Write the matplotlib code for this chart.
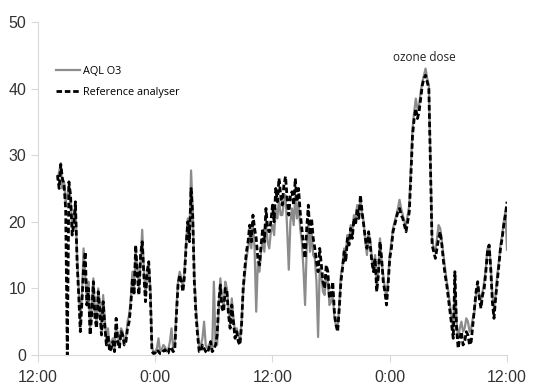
import numpy as np
import matplotlib
matplotlib.use('Agg')
import matplotlib.pyplot as plt

# ozone readings (ppb), 10 minute averages, hours after 12:00 on day 1
t_start = 2.0   # first reading at 14:00
step = 1 / 6    # 10 minutes

# one row per hour, from 14:00 on day 1 to 12:00 on day 3
ref_o3 = [
    27.0, 25.0, 28.6, 26.5, 25.5, 22.0,
    0.0, 26.0, 24.0, 18.0, 19.5, 23.0,
    14.0, 9.0, 3.5, 8.0, 13.0, 15.5,
    7.5, 10.0, 3.0, 6.0, 11.0, 5.5,
    4.0, 9.5, 6.5, 3.0, 8.0, 4.5,
    1.5, 3.0, 0.5, 1.0, 2.0, 0.5,
    5.5, 2.0, 1.0, 3.5, 3.0, 1.5,
    2.0, 4.0, 5.0, 7.5, 11.5, 9.0,
    16.5, 12.0, 9.0, 15.0, 17.0, 12.0,
    8.0, 12.5, 14.0, 9.0, 0.5, 0.2,
    0.3, 0.8, 0.5, 0.2, 0.2, 0.6,
    0.8, 0.3, 0.3, 1.2, 1.0, 0.5,
    0.8, 6.0, 10.5, 12.0, 11.0, 9.5,
    12.0, 16.5, 20.0, 17.0, 25.0, 21.0,
    11.0, 6.0, 3.0, 0.5, 0.5, 1.5,
    1.0, 0.5, 0.3, 1.0, 2.0, 0.5,
    0.8, 1.5, 3.0, 8.0, 10.5, 7.0,
    6.5, 10.0, 9.5, 6.0, 4.0, 7.5,
    5.0, 2.5, 3.5, 2.0, 1.5, 4.5,
    10.0, 13.0, 15.5, 17.0, 19.5, 17.0,
    21.0, 19.0, 17.5, 14.5, 13.5, 16.5,
    19.0, 17.0, 22.0, 19.0, 18.5, 20.0,
    22.5, 20.0, 25.0, 23.0, 26.5, 24.0,
    22.5, 25.5, 26.8, 23.5, 21.0, 24.0,
    24.5, 22.5, 26.5, 23.0, 25.0, 21.5,
    19.0, 16.5, 14.5, 19.0, 22.5, 18.0,
    20.5, 17.5, 16.0, 14.0, 12.5, 16.0,
    13.5, 11.0, 10.0, 13.5, 12.5, 8.5,
    9.0, 11.0, 6.5, 4.5, 3.5, 7.0,
    11.0, 13.0, 15.5, 14.0, 17.5, 16.5,
    19.0, 17.5, 20.5, 19.5, 22.0, 20.5,
    24.0, 21.5, 19.5, 17.5, 16.0, 18.5,
    16.5, 14.0, 12.5, 14.5, 9.5, 12.0,
    17.0, 14.5, 11.0, 9.5, 7.5, 10.5,
    14.5, 16.0, 18.5, 19.5, 20.5, 21.5,
    22.0, 21.0, 20.5, 19.5, 18.5, 20.0,
    21.5, 27.0, 33.0, 35.5, 37.0, 35.5,
    36.5, 38.5, 40.5, 41.5, 42.0, 41.0,
    40.0, 28.0, 16.5, 15.5, 14.5, 16.0,
    17.5, 18.5, 16.5, 14.0, 12.0, 10.5,
    8.5, 6.5, 4.5, 2.5, 12.5, 4.0,
    1.0, 2.5, 3.5, 1.5, 2.0, 3.5,
    3.0, 1.5, 2.0, 4.5, 7.0, 9.5,
    11.0, 8.5, 7.0, 9.0, 10.0, 12.5,
    15.5, 16.5, 13.0, 8.0, 5.5, 8.5,
    11.0, 13.5, 16.0, 17.5, 19.5, 21.0,
    23.0]

aql_o3 = [
    26.5, 27.5, 28.8, 25.0, 26.0, 23.0,
    24.0, 25.5, 23.5, 19.0, 21.0, 22.5,
    15.0, 10.0, 5.0, 9.0, 16.0, 12.0,
    8.5, 11.0, 4.0, 7.0, 11.5, 6.5,
    5.0, 10.0, 7.5, 4.0, 9.0, 5.5,
    2.0, 4.0, 1.0, 2.0, 2.5, 1.0,
    4.5, 3.0, 1.5, 4.0, 3.5, 2.0,
    2.5, 5.0, 6.0, 8.5, 12.5, 10.0,
    15.5, 13.0, 10.0, 14.0, 18.8, 13.0,
    9.0, 12.0, 13.5, 10.0, 1.0, 0.5,
    0.5, 1.0, 2.5, 0.5, 0.8, 1.5,
    1.2, 0.5, 0.8, 2.0, 4.0, 1.0,
    1.5, 7.0, 11.0, 12.5, 11.5, 10.0,
    13.0, 17.0, 20.5, 18.0, 27.7, 22.0,
    12.0, 7.0, 4.0, 1.0, 1.5, 2.5,
    5.0, 1.5, 1.0, 1.5, 2.0, 1.0,
    11.0, 2.0, 1.5, 7.0, 11.5, 8.0,
    7.5, 11.0, 10.0, 7.0, 5.0, 8.5,
    5.5, 3.5, 4.0, 3.0, 2.0, 5.0,
    9.5, 12.0, 14.5, 16.0, 18.0, 16.0,
    19.5, 16.0, 6.5, 14.0, 12.5, 15.5,
    17.5, 15.5, 20.0, 17.0, 16.0, 18.5,
    19.5, 18.0, 22.0, 20.5, 23.5, 21.0,
    21.0, 23.0, 24.0, 19.0, 12.8, 20.0,
    22.0, 19.5, 24.0, 20.5, 23.0, 19.0,
    17.0, 13.0, 7.5, 16.0, 20.0, 15.5,
    18.5, 15.0, 14.5, 11.0, 2.7, 13.0,
    12.0, 9.5, 9.0, 12.0, 11.0, 7.5,
    8.0, 9.5, 5.5, 4.5, 4.0, 7.5,
    12.0, 13.5, 16.0, 15.0, 18.0, 17.0,
    19.5, 18.5, 21.0, 20.0, 22.5, 21.5,
    23.5, 21.0, 20.0, 17.0, 15.0, 18.0,
    17.5, 14.5, 13.0, 15.0, 10.0, 12.5,
    17.5, 14.0, 12.0, 10.0, 8.5, 11.5,
    15.0, 17.0, 19.0, 20.0, 21.0, 22.0,
    23.3, 22.0, 21.0, 20.0, 19.5, 21.0,
    22.5, 28.5, 34.0, 36.5, 38.5, 37.0,
    37.5, 39.5, 41.0, 42.0, 43.0, 41.5,
    40.5, 29.0, 17.5, 16.0, 15.5, 17.5,
    19.5, 19.0, 17.0, 15.0, 13.0, 11.0,
    9.5, 7.5, 5.5, 3.5, 11.0, 5.0,
    2.5, 4.0, 5.0, 3.5, 4.0, 5.5,
    5.0, 3.5, 4.0, 5.5, 6.5, 9.0,
    10.5, 9.0, 8.0, 9.5, 11.0, 13.0,
    16.0, 16.5, 13.5, 9.0, 7.0, 9.0,
    12.0, 14.0, 16.5, 18.0, 20.0, 21.5,
    15.8]

hours = t_start + step * np.arange(len(ref_o3))

tick_hours = [0, 12, 24, 36, 48]
tick_labels = ['12:00', '0:00', '12:00', '0:00', '12:00']

fig = plt.figure(figsize=(5.52, 3.85), dpi=100)
ax = fig.add_axes([0.0688, 0.078, 0.8497, 0.865])

ax.plot(hours, aql_o3, color='#8c8c8c', lw=1.6, label='AQL O3')
ax.plot(hours, ref_o3, color='black', lw=2.0, ls=(0, (2, 1)), label='Reference analyser')

ax.set_xlim(0, 48)
ax.set_ylim(0, 50)
ax.set_xticks(tick_hours)
ax.set_xticklabels(tick_labels)
ax.set_yticks(range(0, 51, 10))

for side in ['top', 'right']:
    ax.spines[side].set_visible(False)
for side in ['left', 'bottom']:
    ax.spines[side].set_color('#d9d9d9')
ax.tick_params(axis='both', color='#d9d9d9', length=5, labelsize=11.5,
               labelcolor='#333333')
ax.tick_params(axis='x', pad=6)
for lbl in ax.get_xticklabels() + ax.get_yticklabels():
    lbl.set_family('Liberation Sans')

leg = ax.legend(loc='upper left', bbox_to_anchor=(0.03, 0.88), frameon=False,
                prop={'family': 'Open Sans', 'size': 7.8}, handlelength=2.2,
                handletextpad=0.3, labelspacing=0.9, borderaxespad=0)

ax.text(39.5, 44.6, 'ozone dose', ha='center', va='center',
        fontsize=8.5, family='Open Sans', color='#222222')

fig.savefig('out.png', dpi=100)
